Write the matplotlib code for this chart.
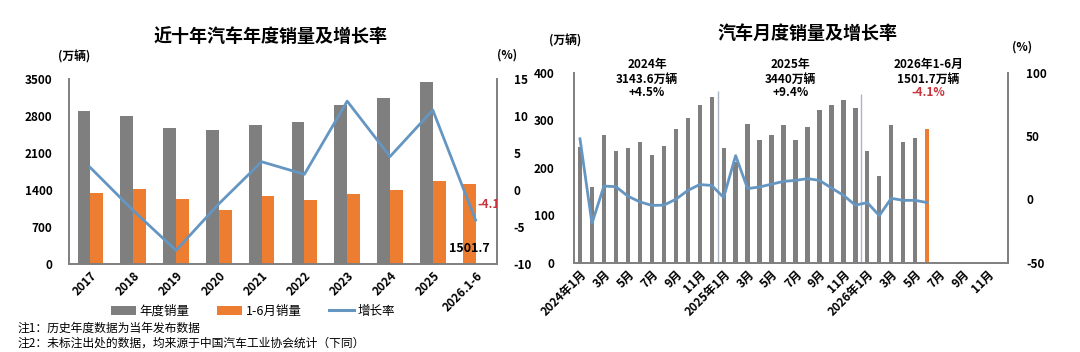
import matplotlib
matplotlib.use("Agg")
import matplotlib.pyplot as plt
from matplotlib.lines import Line2D
from matplotlib.patches import Patch
import numpy as np

plt.rcParams["font.family"] = ["Noto Sans CJK SC", "DejaVu Sans"]
plt.rcParams["axes.unicode_minus"] = False

GRAY = "#7f7f7f"
ORANGE = "#ed7d31"
BLUE = "#6596c2"
RED = "#c8323a"
AXIS = "#7f7f7f"
SEP = "#a9b6c2"

# ---- annual chart data ----
years = ["2017", "2018", "2019", "2020", "2021", "2022", "2023", "2024", "2025", "2026.1-6"]
annual_sales = [2887.9, 2808.1, 2576.9, 2531.1, 2627.5, 2686.4, 3009.4, 3143.6, 3440.0]
h1_sales = [1335.0, 1406.6, 1232.3, 1025.7, 1289.1, 1205.7, 1323.9, 1404.7, 1565.3, 1501.7]
annual_growth = [3.0, -2.8, -8.2, -1.9, 3.8, 2.1, 12.0, 4.5, 10.8, -4.1]

# ---- monthly chart data (2024-01 .. 2026-06) ----
month_ticks = ["2024年1月", "3月", "5月", "7月", "9月", "11月",
               "2025年1月", "3月", "5月", "7月", "9月", "11月",
               "2026年1月", "3月", "5月", "7月", "9月", "11月"]
monthly_sales = [243.9, 158.4, 269.4, 235.9, 241.7, 255.2, 226.2, 245.3, 280.9, 305.3, 331.6, 349.9,
                 242.3, 212.8, 291.5, 259.0, 268.6, 290.4, 259.3, 285.7, 322.7, 332.2, 342.9, 327.0,
                 235.0, 182.0, 291.0, 254.0, 263.0]
latest_month_sales = [282.0]
monthly_growth = [47.9, -19.0, 10.5, 10.0, 2.5, -2.0, -4.8, -4.6, 0.0, 7.0, 11.7, 11.0,
                  1.5, 34.6, 8.5, 9.8, 12.0, 14.2, 15.0, 16.4, 15.0, 9.0, 3.2, -4.6,
                  -2.6, -12.9, 0.8, -0.8, -0.8, -2.6]
period_titles = ["2024年", "2025年", "2026年1-6月"]
period_totals = ["3143.6万辆", "3440万辆", "1501.7万辆"]
period_growth = ["+4.5%", "+9.4%", "-4.1%"]

W, H = 1080, 352
fig = plt.figure(figsize=(W / 100, H / 100), dpi=100)


def px_axes(left, top, right, bottom):
    return fig.add_axes([left / W, 1 - bottom / H, (right - left) / W, (bottom - top) / H])


def style_axis(ax, spines):
    for name, sp in ax.spines.items():
        sp.set_visible(name in spines)
        sp.set_color(AXIS)
        sp.set_linewidth(1.4)
    ax.tick_params(length=0, labelsize=8.5)
    for lab in ax.get_yticklabels():
        lab.set_fontweight("bold")


# ================= left: annual =================
ax1 = px_axes(69, 79, 497, 263.7)
x = np.arange(len(years))
ax1.bar(x[:len(annual_sales)] - 0.15, annual_sales, width=0.3, color=GRAY, zorder=2)
ax1.bar(x[:-1] + 0.15, h1_sales[:-1], width=0.3, color=ORANGE, zorder=2)
ax1.bar(x[-1] - 0.15, h1_sales[-1], width=0.3, color=ORANGE, zorder=2)
ax1.set_xlim(-0.5, len(years) - 0.5)
ax1.set_ylim(0, 3500)
ax1.set_yticks([0, 700, 1400, 2100, 2800, 3500])
ax1.set_xticks(x)
ax1.set_xticklabels(years, rotation=45, ha="right", va="top", rotation_mode="anchor",
                    fontsize=8, fontweight="bold")
style_axis(ax1, ["left", "bottom"])
ax1.tick_params(axis="y", pad=12)
ax1.tick_params(axis="x", pad=4)
ax1.text(8.85, 297, "1501.7", ha="center", va="center", fontsize=9, fontweight="bold", zorder=5)

ax1r = ax1.twinx()
ax1r.plot(x, annual_growth, color=BLUE, lw=2.0, zorder=3)
ax1r.set_ylim(-10, 15)
ax1r.set_yticks([-10, -5, 0, 5, 10, 15])
style_axis(ax1r, ["right"])
for lab in ax1r.get_yticklabels():
    lab.set_fontweight("bold")
ax1r.tick_params(axis="y", pad=12)
ax1r.text(9.03, -2.05, "-4.1", ha="left", va="center", fontsize=8.5, fontweight="bold",
          color=RED, clip_on=True)

fig.text(271 / W, 1 - 37 / H, "近十年汽车年度销量及增长率", ha="center", va="center",
         fontsize=13, fontweight="bold")
fig.text(58 / W, 1 - 57 / H, "(万辆)", ha="left", va="center", fontsize=8.5, fontweight="bold")
fig.text(497 / W, 1 - 55 / H, "(%)", ha="left", va="center", fontsize=8.5, fontweight="bold")

handles = [Patch(facecolor=GRAY), Patch(facecolor=ORANGE), Line2D([0], [0], color=BLUE, lw=2.2)]
fig.legend(handles, ["年度销量", "1-6月销量", "增长率"], loc="center",
           bbox_to_anchor=(253 / W, 1 - 311 / H), ncol=3, frameon=False, fontsize=9,
           handlelength=2.0, handleheight=0.7, handletextpad=0.3, columnspacing=2.2)

fig.text(17 / W, 1 - 328 / H, "注1：历史年度数据为当年发布数据", ha="left", va="center", fontsize=8.5)
fig.text(17 / W, 1 - 343 / H, "注2：未标注出处的数据，均来源于中国汽车工业协会统计（下同）",
         ha="left", va="center", fontsize=8.5)

# ================= right: monthly =================
ax2 = px_axes(574, 73, 1008, 262.5)
m = np.arange(len(monthly_sales))
ax2.bar(m, monthly_sales, width=0.36, color=GRAY, zorder=2)
ax2.bar([len(monthly_sales)], latest_month_sales, width=0.38, color=ORANGE, zorder=2)
ax2.set_xlim(-0.5, 35.75)
ax2.set_ylim(0, 400)
ax2.set_yticks([0, 100, 200, 300, 400])
ax2.set_xticks(np.arange(0, 36, 2))
ax2.set_xticklabels(month_ticks, rotation=45, ha="right", va="top", rotation_mode="anchor",
                    fontsize=8, fontweight="bold")
style_axis(ax2, ["left", "bottom"])
ax2.tick_params(axis="y", pad=14)
ax2.tick_params(axis="x", pad=4)
ax2.vlines([11.5], 0, 361, color=SEP, lw=1.0, zorder=1)
ax2.vlines([23.5], 0, 356, color=SEP, lw=1.0, zorder=1)

centers = [5.6, 17.6, 29.1]
for cx, t1, t2, t3 in zip(centers, period_titles, period_totals, period_growth):
    ax2.text(cx, 417, t1, ha="center", va="center", fontsize=8.5, fontweight="bold", clip_on=False)
    ax2.text(cx, 387, t2, ha="center", va="center", fontsize=8.5, fontweight="bold", clip_on=False)
    ax2.text(cx, 359, t3, ha="center", va="center", fontsize=8.5, fontweight="bold",
             color=RED if t3.startswith("-") else "black", clip_on=False)

ax2r = ax2.twinx()
ax2r.plot(np.arange(len(monthly_growth)), monthly_growth, color=BLUE, lw=2.0, zorder=3)
ax2r.set_ylim(-50, 100)
ax2r.set_yticks([-50, 0, 50, 100])
style_axis(ax2r, ["right"])
for lab in ax2r.get_yticklabels():
    lab.set_fontweight("bold")
ax2r.tick_params(axis="y", pad=13)

fig.text(807 / W, 1 - 33 / H, "汽车月度销量及增长率", ha="center", va="center",
         fontsize=13, fontweight="bold")
fig.text(549 / W, 1 - 41 / H, "(万辆)", ha="left", va="center", fontsize=8.5, fontweight="bold")
fig.text(1012 / W, 1 - 47 / H, "(%)", ha="left", va="center", fontsize=8.5, fontweight="bold")

fig.savefig("out.png", dpi=100)
